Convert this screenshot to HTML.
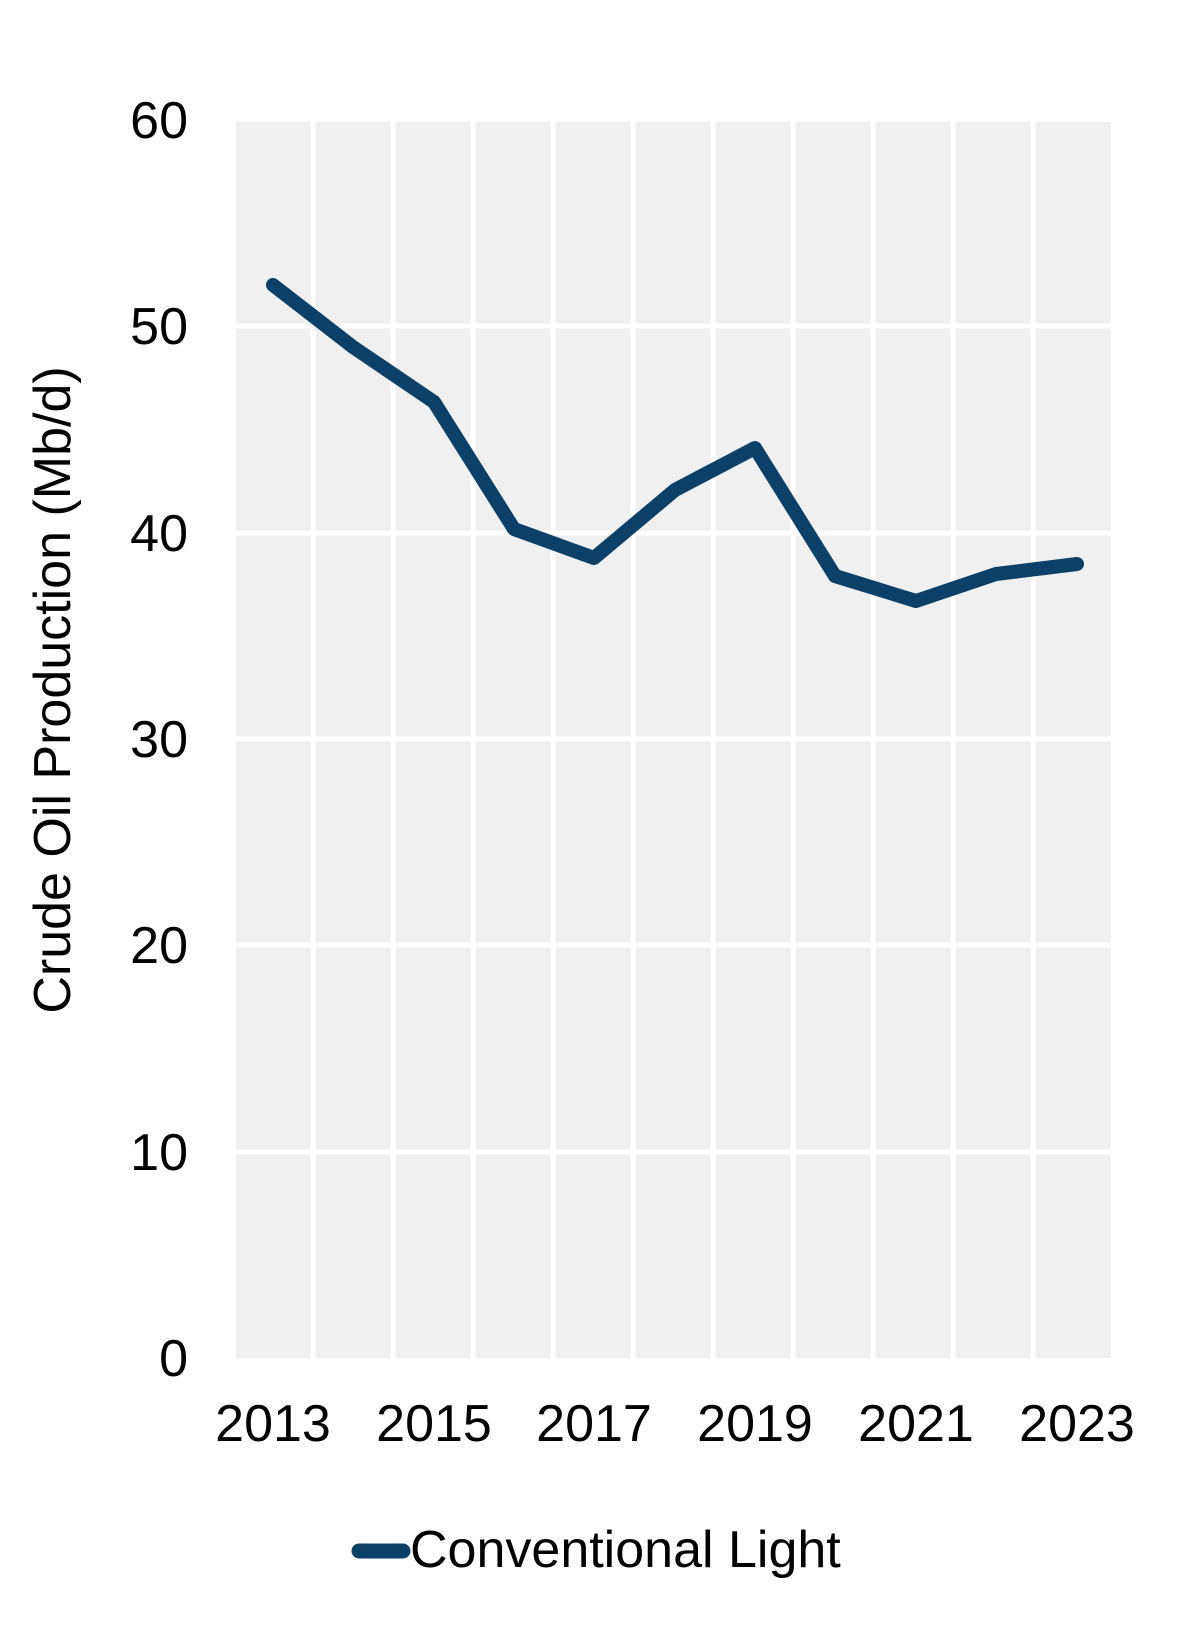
<!DOCTYPE html>
<html><head><style>body{margin:0;background:#fff}svg{display:block}</style></head><body>
<svg width="1200" height="1647" xmlns="http://www.w3.org/2000/svg" font-family="Liberation Sans, Arial, sans-serif">
<rect x="236" y="122" width="875" height="1236" fill="#f0f0f0"/>
<g stroke="#fff" stroke-width="5">
<line x1="236" y1="1152" x2="1111" y2="1152"/>
<line x1="236" y1="945" x2="1111" y2="945"/>
<line x1="236" y1="739" x2="1111" y2="739"/>
<line x1="236" y1="533" x2="1111" y2="533"/>
<line x1="236" y1="326" x2="1111" y2="326"/>
<line x1="313" y1="122" x2="313" y2="1358"/><line x1="393" y1="122" x2="393" y2="1358"/>
<line x1="473" y1="122" x2="473" y2="1358"/><line x1="553" y1="122" x2="553" y2="1358"/>
<line x1="633" y1="122" x2="633" y2="1358"/><line x1="713" y1="122" x2="713" y2="1358"/>
<line x1="793" y1="122" x2="793" y2="1358"/><line x1="873" y1="122" x2="873" y2="1358"/>
<line x1="953" y1="122" x2="953" y2="1358"/><line x1="1033" y1="122" x2="1033" y2="1358"/>
</g>
<g font-size="52" text-anchor="end" fill="#000">
<text x="188" y="138">60</text><text x="188" y="344">50</text><text x="188" y="551">40</text>
<text x="188" y="757">30</text><text x="188" y="963">20</text><text x="188" y="1170">10</text><text x="188" y="1376">0</text>
</g>
<g font-size="52" text-anchor="middle" fill="#000">
<text x="273" y="1441">2013</text><text x="434" y="1441">2015</text><text x="594" y="1441">2017</text>
<text x="755" y="1441">2019</text><text x="916" y="1441">2021</text><text x="1077" y="1441">2023</text>
</g>
<text transform="translate(70,690) rotate(-90)" font-size="52" text-anchor="middle" fill="#000">Crude Oil Production (Mb/d)</text>
<polyline fill="none" stroke="#0b4068" stroke-width="14" stroke-linecap="round" stroke-linejoin="round"
points="273,285 353,347 434,402 514,529 594,558 675,490 755,448 835,576 916,601 996,574 1077,564"/>
<line x1="359" y1="1551" x2="403" y2="1551" stroke="#0b4068" stroke-width="15" stroke-linecap="round"/>
<text x="410" y="1567" font-size="52" fill="#000">Conventional Light</text>
</svg>
</body></html>
